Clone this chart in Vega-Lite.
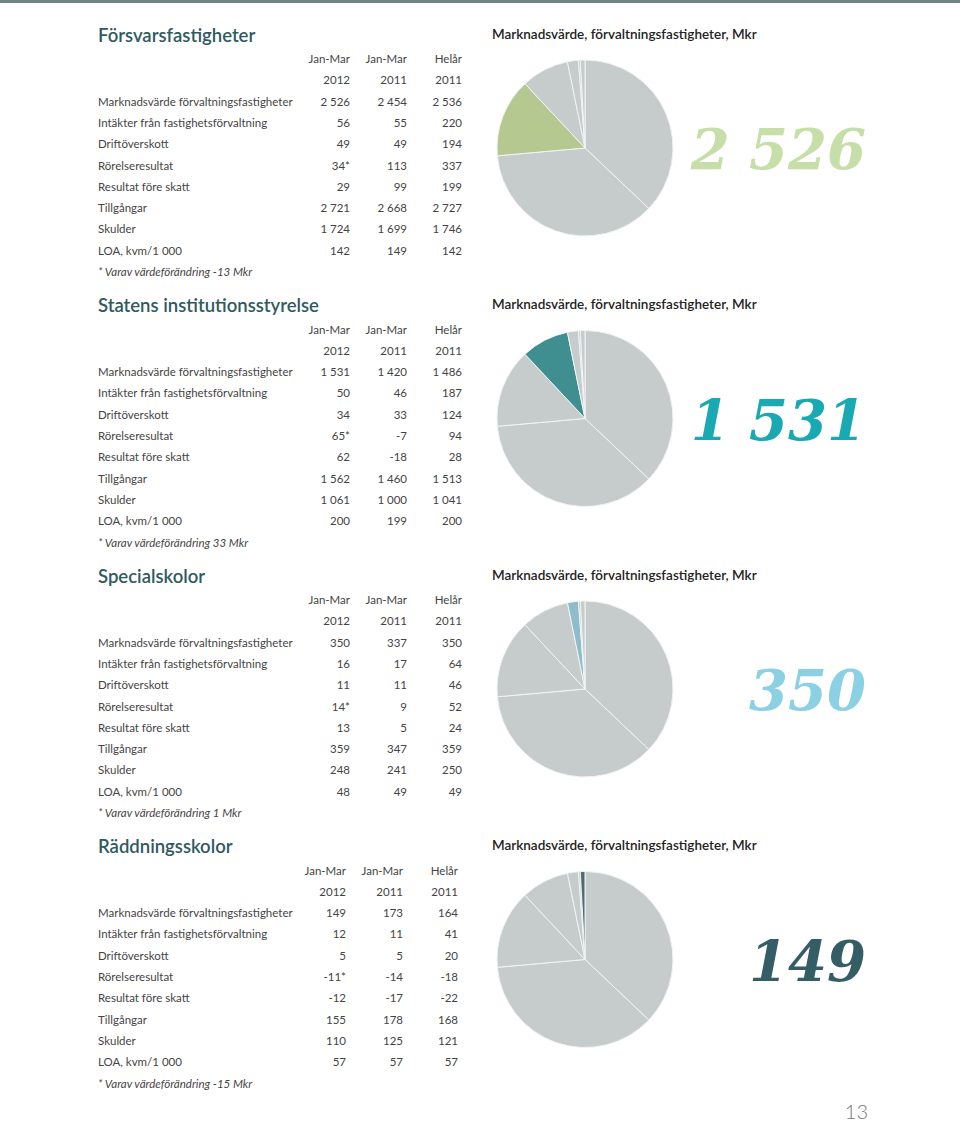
{
  "$schema": "https://vega.github.io/schema/vega-lite/v6.json",
  "padding": 0,
  "background": "white",
  "spacing": 23,
  "title": {"text": "13", "orient": "bottom", "anchor": "end", "dx": -92, "offset": 23, "baseline": "middle", "fontSize": 20, "font": "Lato", "fontWeight": 300, "color": "#777777"},
  "config": {
    "view": {"stroke": null},
    "font": "Lato",
    "text": {"font": "Lato", "fontSize": 11.5, "color": "#444444", "baseline": "middle"}
  },
  "datasets": {
    "hdr": [
      {"r": 0, "c": 1, "t": "Jan-Mar"}, {"r": 0, "c": 2, "t": "Jan-Mar"}, {"r": 0, "c": 3, "t": "Helår"},
      {"r": 1, "c": 1, "t": "2012"}, {"r": 1, "c": 2, "t": "2011"}, {"r": 1, "c": 3, "t": "2011"}
    ],
    "lbl": [
      {"r": 2, "c": 0, "t": "Marknadsvärde förvaltningsfastigheter"},
      {"r": 3, "c": 0, "t": "Intäkter från fastighetsförvaltning"},
      {"r": 4, "c": 0, "t": "Driftöverskott"},
      {"r": 5, "c": 0, "t": "Rörelseresultat"},
      {"r": 6, "c": 0, "t": "Resultat före skatt"},
      {"r": 7, "c": 0, "t": "Tillgångar"},
      {"r": 8, "c": 0, "t": "Skulder"},
      {"r": 9, "c": 0, "t": "LOA, kvm/1 000"}
    ],
    "notes": [
      {"s": 1, "r": 10, "c": 0, "t": "* Varav värdeförändring -13 Mkr"},
      {"s": 2, "r": 10, "c": 0, "t": "* Varav värdeförändring 33 Mkr"},
      {"s": 3, "r": 10, "c": 0, "t": "* Varav värdeförändring 1 Mkr"},
      {"s": 4, "r": 10, "c": 0, "t": "* Varav värdeförändring -15 Mkr"}
    ],
    "vals": [
      {"s": 1, "r": 2, "c": 1, "t": "2 526"}, {"s": 1, "r": 2, "c": 2, "t": "2 454"}, {"s": 1, "r": 2, "c": 3, "t": "2 536"},
      {"s": 1, "r": 3, "c": 1, "t": "56"}, {"s": 1, "r": 3, "c": 2, "t": "55"}, {"s": 1, "r": 3, "c": 3, "t": "220"},
      {"s": 1, "r": 4, "c": 1, "t": "49"}, {"s": 1, "r": 4, "c": 2, "t": "49"}, {"s": 1, "r": 4, "c": 3, "t": "194"},
      {"s": 1, "r": 5, "c": 1, "t": "34*"}, {"s": 1, "r": 5, "c": 2, "t": "113"}, {"s": 1, "r": 5, "c": 3, "t": "337"},
      {"s": 1, "r": 6, "c": 1, "t": "29"}, {"s": 1, "r": 6, "c": 2, "t": "99"}, {"s": 1, "r": 6, "c": 3, "t": "199"},
      {"s": 1, "r": 7, "c": 1, "t": "2 721"}, {"s": 1, "r": 7, "c": 2, "t": "2 668"}, {"s": 1, "r": 7, "c": 3, "t": "2 727"},
      {"s": 1, "r": 8, "c": 1, "t": "1 724"}, {"s": 1, "r": 8, "c": 2, "t": "1 699"}, {"s": 1, "r": 8, "c": 3, "t": "1 746"},
      {"s": 1, "r": 9, "c": 1, "t": "142"}, {"s": 1, "r": 9, "c": 2, "t": "149"}, {"s": 1, "r": 9, "c": 3, "t": "142"},

      {"s": 2, "r": 2, "c": 1, "t": "1 531"}, {"s": 2, "r": 2, "c": 2, "t": "1 420"}, {"s": 2, "r": 2, "c": 3, "t": "1 486"},
      {"s": 2, "r": 3, "c": 1, "t": "50"}, {"s": 2, "r": 3, "c": 2, "t": "46"}, {"s": 2, "r": 3, "c": 3, "t": "187"},
      {"s": 2, "r": 4, "c": 1, "t": "34"}, {"s": 2, "r": 4, "c": 2, "t": "33"}, {"s": 2, "r": 4, "c": 3, "t": "124"},
      {"s": 2, "r": 5, "c": 1, "t": "65*"}, {"s": 2, "r": 5, "c": 2, "t": "-7"}, {"s": 2, "r": 5, "c": 3, "t": "94"},
      {"s": 2, "r": 6, "c": 1, "t": "62"}, {"s": 2, "r": 6, "c": 2, "t": "-18"}, {"s": 2, "r": 6, "c": 3, "t": "28"},
      {"s": 2, "r": 7, "c": 1, "t": "1 562"}, {"s": 2, "r": 7, "c": 2, "t": "1 460"}, {"s": 2, "r": 7, "c": 3, "t": "1 513"},
      {"s": 2, "r": 8, "c": 1, "t": "1 061"}, {"s": 2, "r": 8, "c": 2, "t": "1 000"}, {"s": 2, "r": 8, "c": 3, "t": "1 041"},
      {"s": 2, "r": 9, "c": 1, "t": "200"}, {"s": 2, "r": 9, "c": 2, "t": "199"}, {"s": 2, "r": 9, "c": 3, "t": "200"},

      {"s": 3, "r": 2, "c": 1, "t": "350"}, {"s": 3, "r": 2, "c": 2, "t": "337"}, {"s": 3, "r": 2, "c": 3, "t": "350"},
      {"s": 3, "r": 3, "c": 1, "t": "16"}, {"s": 3, "r": 3, "c": 2, "t": "17"}, {"s": 3, "r": 3, "c": 3, "t": "64"},
      {"s": 3, "r": 4, "c": 1, "t": "11"}, {"s": 3, "r": 4, "c": 2, "t": "11"}, {"s": 3, "r": 4, "c": 3, "t": "46"},
      {"s": 3, "r": 5, "c": 1, "t": "14*"}, {"s": 3, "r": 5, "c": 2, "t": "9"}, {"s": 3, "r": 5, "c": 3, "t": "52"},
      {"s": 3, "r": 6, "c": 1, "t": "13"}, {"s": 3, "r": 6, "c": 2, "t": "5"}, {"s": 3, "r": 6, "c": 3, "t": "24"},
      {"s": 3, "r": 7, "c": 1, "t": "359"}, {"s": 3, "r": 7, "c": 2, "t": "347"}, {"s": 3, "r": 7, "c": 3, "t": "359"},
      {"s": 3, "r": 8, "c": 1, "t": "248"}, {"s": 3, "r": 8, "c": 2, "t": "241"}, {"s": 3, "r": 8, "c": 3, "t": "250"},
      {"s": 3, "r": 9, "c": 1, "t": "48"}, {"s": 3, "r": 9, "c": 2, "t": "49"}, {"s": 3, "r": 9, "c": 3, "t": "49"},

      {"s": 4, "r": 2, "c": 1, "t": "149"}, {"s": 4, "r": 2, "c": 2, "t": "173"}, {"s": 4, "r": 2, "c": 3, "t": "164"},
      {"s": 4, "r": 3, "c": 1, "t": "12"}, {"s": 4, "r": 3, "c": 2, "t": "11"}, {"s": 4, "r": 3, "c": 3, "t": "41"},
      {"s": 4, "r": 4, "c": 1, "t": "5"}, {"s": 4, "r": 4, "c": 2, "t": "5"}, {"s": 4, "r": 4, "c": 3, "t": "20"},
      {"s": 4, "r": 5, "c": 1, "t": "-11*"}, {"s": 4, "r": 5, "c": 2, "t": "-14"}, {"s": 4, "r": 5, "c": 3, "t": "-18"},
      {"s": 4, "r": 6, "c": 1, "t": "-12"}, {"s": 4, "r": 6, "c": 2, "t": "-17"}, {"s": 4, "r": 6, "c": 3, "t": "-22"},
      {"s": 4, "r": 7, "c": 1, "t": "155"}, {"s": 4, "r": 7, "c": 2, "t": "178"}, {"s": 4, "r": 7, "c": 3, "t": "168"},
      {"s": 4, "r": 8, "c": 1, "t": "110"}, {"s": 4, "r": 8, "c": 2, "t": "125"}, {"s": 4, "r": 8, "c": 3, "t": "121"},
      {"s": 4, "r": 9, "c": 1, "t": "57"}, {"s": 4, "r": 9, "c": 2, "t": "57"}, {"s": 4, "r": 9, "c": 3, "t": "57"}
    ],
    "pie": [
      {"seg": "Segment A", "o": 1, "v": 6480},
      {"seg": "Segment B", "o": 2, "v": 6380},
      {"seg": "Försvarsfastigheter", "o": 3, "v": 2526},
      {"seg": "Statens institutionsstyrelse", "o": 4, "v": 1531},
      {"seg": "Specialskolor", "o": 5, "v": 350},
      {"seg": "Övrigt", "o": 6, "v": 60},
      {"seg": "Räddningsskolor", "o": 7, "v": 149}
    ],
    "big": [
      {"s": 1, "t": "2 526"},
      {"s": 2, "t": "1 531"},
      {"s": 3, "t": "350"},
      {"s": 4, "t": "149"}
    ]
  },
  "vconcat": [
    {
      "width": 960, "height": 3,
      "data": {"values": [{"bar": 1}]},
      "mark": {"type": "rect", "color": "#6d8585"},
      "encoding": {}
    },
    {
      "hconcat": [
        {
          "width": 1, "height": 1,
          "data": {"values": [{"sp": 0}]},
          "mark": {"type": "rect", "opacity": 0},
          "encoding": {}
        },
        {
          "vconcat": [
            {
              "hconcat": [
                {
                  "width": 370, "height": 213,
                  "title": {"text": "Försvarsfastigheter", "anchor": "start", "fontSize": 18.5, "font": "Lato", "fontWeight": 600, "color": "#2f5a5f", "baseline": "bottom", "offset": -10},
                  "encoding": {
                    "x": {"field": "c", "type": "quantitative", "scale": {"domain": [0, 1, 2, 3], "range": [0, 252, 309, 364]}, "axis": null},
                    "y": {"field": "r", "type": "quantitative", "scale": {"domain": [0, 10], "reverse": true, "nice": false, "zero": false}, "axis": null},
                    "text": {"field": "t"}
                  },
                  "layer": [
                    {"data": {"name": "hdr"}, "mark": {"type": "text", "align": "right"}},
                    {"data": {"name": "lbl"}, "mark": {"type": "text", "align": "left"}},
                    {"data": {"name": "vals"}, "transform": [{"filter": "datum.s === 1"}], "mark": {"type": "text", "align": "right"}},
                    {"data": {"name": "notes"}, "transform": [{"filter": "datum.s === 1"}], "mark": {"type": "text", "align": "left", "fontStyle": "italic"}}
                  ]
                },
                {
                  "title": {"text": "Marknadsvärde, förvaltningsfastigheter, Mkr", "anchor": "start", "frame": "group", "dx": -5, "fontSize": 13.5, "font": "Lato", "fontWeight": 600, "color": "#222222", "baseline": "bottom", "offset": 3},
                  "hconcat": [
                    {
                      "width": 176, "height": 176,
                      "data": {"name": "pie"},
                      "mark": {"type": "arc", "stroke": "#f2f4f4", "strokeWidth": 1},
                      "encoding": {
                        "theta": {"field": "v", "type": "quantitative", "stack": true},
                        "order": {"field": "o", "type": "quantitative"},
                        "color": {"condition": {"test": "datum.seg === 'Försvarsfastigheter'", "value": "#b5c88f"}, "value": "#c5cccb"}
                      }
                    },
                    {
                      "width": 183, "height": 176,
                      "data": {"name": "big"},
                      "transform": [{"filter": "datum.s === 1"}],
                      "mark": {"type": "text", "align": "right", "baseline": "middle", "dy": 4, "font": "DejaVu Serif", "fontWeight": "bold", "fontStyle": "italic", "fontSize": 56, "color": "#c6dfa9"},
                      "encoding": {"text": {"field": "t"}, "x": {"value": "width"}}
                    }
                  ],
                  "spacing": 10, "bounds": "flush"
                }
              ],
              "spacing": 24
            },
            {
              "hconcat": [
                {
                  "width": 370, "height": 213,
                  "title": {"text": "Statens institutionsstyrelse", "anchor": "start", "fontSize": 18.5, "font": "Lato", "fontWeight": 600, "color": "#2f5a5f", "baseline": "bottom", "offset": -10},
                  "encoding": {
                    "x": {"field": "c", "type": "quantitative", "scale": {"domain": [0, 1, 2, 3], "range": [0, 252, 309, 364]}, "axis": null},
                    "y": {"field": "r", "type": "quantitative", "scale": {"domain": [0, 10], "reverse": true, "nice": false, "zero": false}, "axis": null},
                    "text": {"field": "t"}
                  },
                  "layer": [
                    {"data": {"name": "hdr"}, "mark": {"type": "text", "align": "right"}},
                    {"data": {"name": "lbl"}, "mark": {"type": "text", "align": "left"}},
                    {"data": {"name": "vals"}, "transform": [{"filter": "datum.s === 2"}], "mark": {"type": "text", "align": "right"}},
                    {"data": {"name": "notes"}, "transform": [{"filter": "datum.s === 2"}], "mark": {"type": "text", "align": "left", "fontStyle": "italic"}}
                  ]
                },
                {
                  "title": {"text": "Marknadsvärde, förvaltningsfastigheter, Mkr", "anchor": "start", "frame": "group", "dx": -5, "fontSize": 13.5, "font": "Lato", "fontWeight": 600, "color": "#222222", "baseline": "bottom", "offset": 3},
                  "hconcat": [
                    {
                      "width": 176, "height": 176,
                      "data": {"name": "pie"},
                      "mark": {"type": "arc", "stroke": "#f2f4f4", "strokeWidth": 1},
                      "encoding": {
                        "theta": {"field": "v", "type": "quantitative", "stack": true},
                        "order": {"field": "o", "type": "quantitative"},
                        "color": {"condition": {"test": "datum.seg === 'Statens institutionsstyrelse'", "value": "#3f8f90"}, "value": "#c5cccb"}
                      }
                    },
                    {
                      "width": 183, "height": 176,
                      "data": {"name": "big"},
                      "transform": [{"filter": "datum.s === 2"}],
                      "mark": {"type": "text", "align": "right", "baseline": "middle", "dy": 4, "font": "DejaVu Serif", "fontWeight": "bold", "fontStyle": "italic", "fontSize": 56, "color": "#19a9b2"},
                      "encoding": {"text": {"field": "t"}, "x": {"value": "width"}}
                    }
                  ],
                  "spacing": 10, "bounds": "flush"
                }
              ],
              "spacing": 24
            },
            {
              "hconcat": [
                {
                  "width": 370, "height": 213,
                  "title": {"text": "Specialskolor", "anchor": "start", "fontSize": 18.5, "font": "Lato", "fontWeight": 600, "color": "#2f5a5f", "baseline": "bottom", "offset": -10},
                  "encoding": {
                    "x": {"field": "c", "type": "quantitative", "scale": {"domain": [0, 1, 2, 3], "range": [0, 252, 309, 364]}, "axis": null},
                    "y": {"field": "r", "type": "quantitative", "scale": {"domain": [0, 10], "reverse": true, "nice": false, "zero": false}, "axis": null},
                    "text": {"field": "t"}
                  },
                  "layer": [
                    {"data": {"name": "hdr"}, "mark": {"type": "text", "align": "right"}},
                    {"data": {"name": "lbl"}, "mark": {"type": "text", "align": "left"}},
                    {"data": {"name": "vals"}, "transform": [{"filter": "datum.s === 3"}], "mark": {"type": "text", "align": "right"}},
                    {"data": {"name": "notes"}, "transform": [{"filter": "datum.s === 3"}], "mark": {"type": "text", "align": "left", "fontStyle": "italic"}}
                  ]
                },
                {
                  "title": {"text": "Marknadsvärde, förvaltningsfastigheter, Mkr", "anchor": "start", "frame": "group", "dx": -5, "fontSize": 13.5, "font": "Lato", "fontWeight": 600, "color": "#222222", "baseline": "bottom", "offset": 3},
                  "hconcat": [
                    {
                      "width": 176, "height": 176,
                      "data": {"name": "pie"},
                      "mark": {"type": "arc", "stroke": "#f2f4f4", "strokeWidth": 1},
                      "encoding": {
                        "theta": {"field": "v", "type": "quantitative", "stack": true},
                        "order": {"field": "o", "type": "quantitative"},
                        "color": {"condition": {"test": "datum.seg === 'Specialskolor'", "value": "#8ebccb"}, "value": "#c5cccb"}
                      }
                    },
                    {
                      "width": 183, "height": 176,
                      "data": {"name": "big"},
                      "transform": [{"filter": "datum.s === 3"}],
                      "mark": {"type": "text", "align": "right", "baseline": "middle", "dy": 4, "font": "DejaVu Serif", "fontWeight": "bold", "fontStyle": "italic", "fontSize": 56, "color": "#8bd1e3"},
                      "encoding": {"text": {"field": "t"}, "x": {"value": "width"}}
                    }
                  ],
                  "spacing": 10, "bounds": "flush"
                }
              ],
              "spacing": 24
            },
            {
              "hconcat": [
                {
                  "width": 370, "height": 213,
                  "title": {"text": "Räddningsskolor", "anchor": "start", "fontSize": 18.5, "font": "Lato", "fontWeight": 600, "color": "#2f5a5f", "baseline": "bottom", "offset": -10},
                  "encoding": {
                    "x": {"field": "c", "type": "quantitative", "scale": {"domain": [0, 1, 2, 3], "range": [0, 248, 305, 360]}, "axis": null},
                    "y": {"field": "r", "type": "quantitative", "scale": {"domain": [0, 10], "reverse": true, "nice": false, "zero": false}, "axis": null},
                    "text": {"field": "t"}
                  },
                  "layer": [
                    {"data": {"name": "hdr"}, "mark": {"type": "text", "align": "right"}},
                    {"data": {"name": "lbl"}, "mark": {"type": "text", "align": "left"}},
                    {"data": {"name": "vals"}, "transform": [{"filter": "datum.s === 4"}], "mark": {"type": "text", "align": "right"}},
                    {"data": {"name": "notes"}, "transform": [{"filter": "datum.s === 4"}], "mark": {"type": "text", "align": "left", "fontStyle": "italic"}}
                  ]
                },
                {
                  "title": {"text": "Marknadsvärde, förvaltningsfastigheter, Mkr", "anchor": "start", "frame": "group", "dx": -5, "fontSize": 13.5, "font": "Lato", "fontWeight": 600, "color": "#222222", "baseline": "bottom", "offset": 3},
                  "hconcat": [
                    {
                      "width": 176, "height": 176,
                      "data": {"name": "pie"},
                      "mark": {"type": "arc", "stroke": "#f2f4f4", "strokeWidth": 1},
                      "encoding": {
                        "theta": {"field": "v", "type": "quantitative", "stack": true},
                        "order": {"field": "o", "type": "quantitative"},
                        "color": {"condition": {"test": "datum.seg === 'Räddningsskolor'", "value": "#4e6b70"}, "value": "#c5cccb"}
                      }
                    },
                    {
                      "width": 183, "height": 176,
                      "data": {"name": "big"},
                      "transform": [{"filter": "datum.s === 4"}],
                      "mark": {"type": "text", "align": "right", "baseline": "middle", "dy": 4, "font": "DejaVu Serif", "fontWeight": "bold", "fontStyle": "italic", "fontSize": 56, "color": "#345d66"},
                      "encoding": {"text": {"field": "t"}, "x": {"value": "width"}}
                    }
                  ],
                  "spacing": 10, "bounds": "flush"
                }
              ],
              "spacing": 24
            }
          ],
          "spacing": 17.5
        }
      ],
      "spacing": 97
    }
  ]
}
